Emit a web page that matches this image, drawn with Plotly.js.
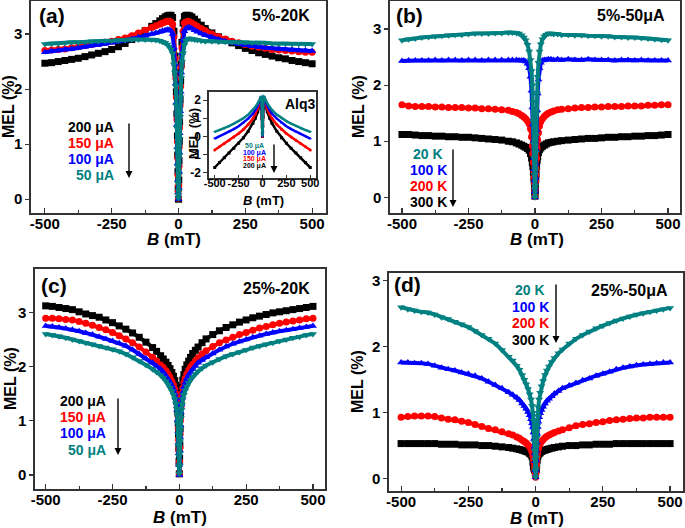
<!DOCTYPE html>
<html lang="en">
<head>
<meta charset="UTF-8">
<title>MEL vs B</title>
<script src="https://cdn.plot.ly/plotly-3.0.1.min.js"></script>
<style>
  body { margin: 0; background: white; }
  #plot { width: 685px; height: 528px; }
</style>
</head>
<body>
<div id="plot"></div>
<script>
// magnetic field grid (mT), shared by the four main panels
const bField = [
  -500, -475, -450, -425, -400, -375, -350, -325, -300, -275, -250, -225, -200, -175, -150, -125, -100,
  -85, -70, -60, -50, -42, -35, -28, -22, -17, -13, -10, -8, -6, -4, -3, -2, -1,
  0,
  1, 2, 3, 4, 6, 8, 10, 13, 17, 22, 28, 35, 42, 50, 60, 70, 85,
  100, 125, 150, 175, 200, 225, 250, 275, 300, 325, 350, 375, 400, 425, 450, 475, 500
];

// (a) 5%-20K, MEL (%) for each current
const melA200 = [
  2.47, 2.48, 2.50, 2.52, 2.54, 2.56, 2.59, 2.62, 2.65, 2.68, 2.72, 2.77, 2.83, 2.90, 2.98, 3.06, 3.14,
  3.19, 3.24, 3.28, 3.31, 3.33, 3.34, 3.34, 3.30, 3.05, 2.60, 2.30, 1.95, 1.55, 1.15, 0.80, 0.50, 0.20,
  0.00,
  0.35, 0.70, 1.05, 1.40, 1.80, 2.15, 2.45, 2.85, 3.20, 3.32, 3.34, 3.34, 3.33, 3.31, 3.27, 3.22, 3.16,
  3.10, 3.02, 2.95, 2.89, 2.84, 2.79, 2.74, 2.70, 2.66, 2.63, 2.60, 2.57, 2.55, 2.52, 2.50, 2.48, 2.46
];
const melA150 = [
  2.70, 2.71, 2.72, 2.73, 2.75, 2.77, 2.79, 2.81, 2.83, 2.85, 2.87, 2.90, 2.93, 2.97, 3.02, 3.07, 3.12,
  3.15, 3.18, 3.20, 3.22, 3.23, 3.23, 3.22, 3.18, 2.95, 2.55, 2.20, 1.85, 1.45, 1.05, 0.75, 0.45, 0.15,
  0.02,
  0.25, 0.60, 0.95, 1.30, 1.70, 2.05, 2.40, 2.75, 3.05, 3.20, 3.22, 3.23, 3.22, 3.20, 3.17, 3.14, 3.10,
  3.06, 3.00, 2.95, 2.91, 2.87, 2.84, 2.81, 2.78, 2.76, 2.74, 2.72, 2.71, 2.70, 2.69, 2.68, 2.67, 2.67
];
const melA100 = [
  2.67, 2.69, 2.70, 2.72, 2.73, 2.75, 2.77, 2.79, 2.80, 2.82, 2.84, 2.86, 2.88, 2.91, 2.94, 2.97, 3.00,
  3.02, 3.04, 3.06, 3.07, 3.08, 3.08, 3.06, 3.00, 2.75, 2.45, 2.10, 1.75, 1.35, 0.95, 0.65, 0.35, 0.12,
  0.00,
  0.20, 0.50, 0.85, 1.20, 1.60, 1.95, 2.30, 2.65, 2.90, 3.05, 3.10, 3.12, 3.12, 3.10, 3.07, 3.04, 3.01,
  2.98, 2.94, 2.90, 2.87, 2.84, 2.82, 2.80, 2.78, 2.76, 2.75, 2.74, 2.73, 2.72, 2.71, 2.70, 2.70, 2.69
];
const melA50 = [
  2.82, 2.83, 2.83, 2.84, 2.85, 2.85, 2.86, 2.87, 2.87, 2.88, 2.88, 2.89, 2.89, 2.90, 2.90, 2.90, 2.90,
  2.89, 2.88, 2.86, 2.84, 2.81, 2.77, 2.72, 2.65, 2.45, 2.30, 2.05, 1.70, 1.30, 0.90, 0.60, 0.30, 0.08,
  0.02,
  0.15, 0.45, 0.80, 1.10, 1.50, 1.85, 2.20, 2.50, 2.65, 2.80, 2.88, 2.91, 2.92, 2.91, 2.90, 2.89, 2.88,
  2.87, 2.87, 2.86, 2.86, 2.85, 2.85, 2.85, 2.84, 2.84, 2.84, 2.83, 2.83, 2.83, 2.82, 2.82, 2.82, 2.82
];

// (b) 5%-50uA, MEL (%) for each temperature
const melB20 = [
  2.80, 2.82, 2.83, 2.85, 2.86, 2.87, 2.88, 2.89, 2.90, 2.90, 2.91, 2.92, 2.92, 2.92, 2.93, 2.93, 2.94,
  2.94, 2.93, 2.92, 2.89, 2.85, 2.80, 2.72, 2.60, 2.45, 2.25, 2.00, 1.70, 1.35, 0.95, 0.70, 0.40, 0.15,
  0.00,
  0.20, 0.50, 0.80, 1.10, 1.50, 1.85, 2.15, 2.40, 2.60, 2.73, 2.82, 2.87, 2.90, 2.92, 2.92, 2.91, 2.91,
  2.90, 2.90, 2.89, 2.89, 2.88, 2.88, 2.87, 2.87, 2.86, 2.86, 2.85, 2.85, 2.84, 2.83, 2.82, 2.81, 2.80
];
const melB100 = [
  2.43, 2.44, 2.44, 2.44, 2.44, 2.45, 2.44, 2.45, 2.45, 2.44, 2.45, 2.45, 2.44, 2.45, 2.45, 2.45, 2.45,
  2.45, 2.45, 2.44, 2.44, 2.44, 2.42, 2.38, 2.30, 2.15, 1.90, 1.60, 1.30, 1.00, 0.70, 0.50, 0.30, 0.10,
  0.00,
  0.15, 0.35, 0.60, 0.85, 1.20, 1.55, 1.85, 2.10, 2.30, 2.40, 2.44, 2.45, 2.45, 2.46, 2.46, 2.45, 2.46,
  2.45, 2.46, 2.45, 2.45, 2.46, 2.45, 2.45, 2.45, 2.44, 2.45, 2.45, 2.44, 2.45, 2.44, 2.44, 2.44, 2.44
];
const melB200 = [
  1.65, 1.63, 1.62, 1.62, 1.62, 1.61, 1.61, 1.60, 1.60, 1.60, 1.59, 1.59, 1.58, 1.58, 1.57, 1.56, 1.55,
  1.53, 1.51, 1.49, 1.46, 1.43, 1.40, 1.36, 1.31, 1.22, 1.08, 0.92, 0.78, 0.62, 0.45, 0.35, 0.25, 0.12,
  0.02,
  0.15, 0.28, 0.40, 0.52, 0.70, 0.88, 1.02, 1.15, 1.27, 1.35, 1.40, 1.44, 1.47, 1.50, 1.52, 1.54, 1.56,
  1.57, 1.58, 1.59, 1.60, 1.60, 1.61, 1.61, 1.62, 1.62, 1.62, 1.63, 1.63, 1.63, 1.64, 1.64, 1.65, 1.65
];
const melB300 = [
  1.12, 1.12, 1.11, 1.10, 1.10, 1.09, 1.09, 1.08, 1.08, 1.07, 1.07, 1.06, 1.05, 1.04, 1.03, 1.02, 1.00,
  0.99, 0.97, 0.95, 0.93, 0.91, 0.89, 0.87, 0.84, 0.78, 0.70, 0.62, 0.55, 0.45, 0.35, 0.28, 0.20, 0.10,
  0.02,
  0.12, 0.22, 0.32, 0.42, 0.55, 0.66, 0.72, 0.80, 0.85, 0.88, 0.91, 0.93, 0.95, 0.97, 0.98, 0.99, 1.00,
  1.01, 1.02, 1.03, 1.04, 1.05, 1.05, 1.06, 1.07, 1.07, 1.08, 1.08, 1.09, 1.09, 1.10, 1.10, 1.11, 1.12
];

// (c) 25%-20K
const melC200 = [
  3.12, 3.11, 3.09, 3.07, 3.05, 3.01, 2.97, 2.94, 2.91, 2.86, 2.81, 2.75, 2.69, 2.62, 2.54, 2.45, 2.35,
  2.28, 2.20, 2.14, 2.08, 2.02, 1.96, 1.89, 1.82, 1.74, 1.65, 1.55, 1.40, 1.20, 0.95, 0.75, 0.50, 0.25,
  0.02,
  0.30, 0.55, 0.85, 1.10, 1.35, 1.50, 1.62, 1.75, 1.85, 1.95, 2.03, 2.10, 2.17, 2.24, 2.30, 2.36, 2.44,
  2.51, 2.59, 2.66, 2.72, 2.77, 2.82, 2.86, 2.90, 2.93, 2.96, 2.99, 3.01, 3.03, 3.05, 3.07, 3.09, 3.11
];
const melC150 = [
  2.89, 2.89, 2.88, 2.87, 2.86, 2.83, 2.80, 2.76, 2.72, 2.68, 2.63, 2.57, 2.51, 2.44, 2.36, 2.27, 2.17,
  2.10, 2.03, 1.98, 1.92, 1.86, 1.80, 1.73, 1.66, 1.58, 1.50, 1.40, 1.28, 1.10, 0.85, 0.65, 0.45, 0.20,
  0.02,
  0.25, 0.50, 0.75, 1.00, 1.25, 1.40, 1.50, 1.60, 1.70, 1.78, 1.86, 1.93, 1.99, 2.04, 2.10, 2.16, 2.23,
  2.29, 2.37, 2.44, 2.49, 2.54, 2.59, 2.63, 2.67, 2.71, 2.74, 2.77, 2.80, 2.82, 2.84, 2.86, 2.88, 2.89
];
const melC100 = [
  2.75, 2.74, 2.72, 2.70, 2.68, 2.65, 2.62, 2.59, 2.55, 2.51, 2.47, 2.43, 2.38, 2.31, 2.23, 2.15, 2.07,
  2.01, 1.95, 1.90, 1.83, 1.77, 1.71, 1.65, 1.58, 1.50, 1.42, 1.33, 1.20, 1.02, 0.80, 0.60, 0.40, 0.18,
  0.00,
  0.22, 0.45, 0.70, 0.92, 1.15, 1.30, 1.42, 1.52, 1.62, 1.70, 1.78, 1.85, 1.90, 1.95, 2.01, 2.07, 2.12,
  2.17, 2.24, 2.31, 2.37, 2.42, 2.46, 2.50, 2.54, 2.57, 2.60, 2.63, 2.65, 2.67, 2.69, 2.71, 2.73, 2.75
];
const melC50 = [
  2.60, 2.58, 2.56, 2.53, 2.50, 2.47, 2.44, 2.41, 2.38, 2.35, 2.32, 2.28, 2.23, 2.17, 2.10, 2.03, 1.95,
  1.90, 1.84, 1.79, 1.73, 1.67, 1.61, 1.55, 1.48, 1.40, 1.32, 1.22, 1.10, 0.95, 0.75, 0.55, 0.35, 0.15,
  0.02,
  0.18, 0.40, 0.62, 0.85, 1.05, 1.20, 1.30, 1.40, 1.48, 1.56, 1.63, 1.70, 1.75, 1.80, 1.86, 1.91, 1.97,
  2.02, 2.08, 2.14, 2.19, 2.23, 2.27, 2.31, 2.35, 2.38, 2.41, 2.44, 2.47, 2.50, 2.53, 2.55, 2.58, 2.60
];

// (d) 25%-50uA
const melD20 = [
  2.60, 2.57, 2.55, 2.53, 2.52, 2.49, 2.45, 2.42, 2.38, 2.34, 2.30, 2.24, 2.18, 2.12, 2.05, 1.95, 1.85,
  1.79, 1.71, 1.65, 1.57, 1.50, 1.43, 1.36, 1.28, 1.20, 1.10, 1.00, 0.88, 0.72, 0.55, 0.42, 0.28, 0.12,
  0.02,
  0.15, 0.32, 0.48, 0.62, 0.80, 0.95, 1.08, 1.20, 1.30, 1.40, 1.48, 1.57, 1.64, 1.70, 1.77, 1.83, 1.90,
  1.96, 2.05, 2.12, 2.18, 2.23, 2.28, 2.32, 2.36, 2.40, 2.43, 2.46, 2.49, 2.51, 2.53, 2.55, 2.57, 2.59
];
const melD100 = [
  1.76, 1.76, 1.75, 1.75, 1.74, 1.71, 1.68, 1.66, 1.64, 1.61, 1.59, 1.56, 1.52, 1.47, 1.42, 1.37, 1.31,
  1.27, 1.23, 1.19, 1.14, 1.10, 1.06, 1.01, 0.96, 0.90, 0.84, 0.78, 0.70, 0.60, 0.48, 0.38, 0.26, 0.12,
  0.02,
  0.14, 0.28, 0.42, 0.55, 0.68, 0.78, 0.86, 0.93, 0.99, 1.04, 1.09, 1.14, 1.18, 1.21, 1.25, 1.29, 1.33,
  1.37, 1.41, 1.45, 1.49, 1.52, 1.56, 1.59, 1.62, 1.66, 1.68, 1.70, 1.72, 1.73, 1.74, 1.75, 1.76, 1.76
];
const melD200 = [
  0.93, 0.94, 0.95, 0.95, 0.95, 0.94, 0.92, 0.90, 0.89, 0.87, 0.85, 0.82, 0.79, 0.76, 0.74, 0.71, 0.68,
  0.66, 0.63, 0.61, 0.58, 0.56, 0.54, 0.51, 0.48, 0.44, 0.40, 0.35, 0.30, 0.25, 0.18, 0.14, 0.10, 0.05,
  0.02,
  0.08, 0.14, 0.20, 0.26, 0.34, 0.40, 0.45, 0.50, 0.53, 0.56, 0.59, 0.62, 0.64, 0.66, 0.68, 0.70, 0.72,
  0.74, 0.77, 0.80, 0.82, 0.83, 0.85, 0.86, 0.88, 0.89, 0.90, 0.91, 0.92, 0.92, 0.93, 0.93, 0.93, 0.93
];
const melD300 = [
  0.53, 0.53, 0.53, 0.53, 0.53, 0.53, 0.52, 0.52, 0.52, 0.51, 0.51, 0.51, 0.50, 0.50, 0.49, 0.48, 0.47,
  0.46, 0.45, 0.44, 0.43, 0.42, 0.41, 0.40, 0.38, 0.36, 0.33, 0.25, 0.18, 0.15, 0.14, 0.13, 0.12, 0.12,
  0.12,
  0.13, 0.14, 0.16, 0.20, 0.28, 0.34, 0.36, 0.38, 0.39, 0.41, 0.42, 0.43, 0.44, 0.45, 0.46, 0.47, 0.48,
  0.49, 0.50, 0.50, 0.51, 0.51, 0.52, 0.52, 0.52, 0.53, 0.53, 0.53, 0.53, 0.53, 0.53, 0.53, 0.53, 0.53
];

// inset: Alq3 reference device
const insetField = [
  -500, -450, -400, -350, -300, -250, -200, -150, -100, -75, -50, -35, -25, -18, -12, -8, -5, -3, -1,
  0,
  1, 3, 5, 8, 12, 18, 25, 35, 50, 75, 100, 150, 200, 250, 300, 350, 400, 450, 500
];
const alq50 = [
  0.25, 0.35, 0.45, 0.57, 0.70, 0.84, 1.00, 1.20, 1.45, 1.62, 1.82, 1.97, 2.08, 2.18, 2.20, 1.80, 1.30, 0.80, 0.30,
  0.05,
  0.35, 0.85, 1.35, 1.85, 2.20, 2.18, 2.08, 1.97, 1.82, 1.62, 1.45, 1.20, 1.00, 0.84, 0.70, 0.57, 0.45, 0.35, 0.25
];
const alq100 = [
  -0.12, 0.00, 0.12, 0.26, 0.40, 0.56, 0.75, 0.98, 1.25, 1.45, 1.70, 1.88, 2.03, 2.15, 2.18, 1.70, 1.20, 0.70, 0.25,
  0.02,
  0.30, 0.75, 1.25, 1.75, 2.18, 2.15, 2.03, 1.88, 1.70, 1.45, 1.25, 0.98, 0.75, 0.56, 0.40, 0.26, 0.12, 0.00, -0.12
];
const alq150 = [
  -0.75, -0.57, -0.40, -0.22, -0.04, 0.16, 0.38, 0.65, 0.98, 1.22, 1.52, 1.75, 1.95, 2.10, 2.15, 1.60, 1.10, 0.60, 0.20,
  0.00,
  0.25, 0.65, 1.15, 1.65, 2.15, 2.10, 1.95, 1.75, 1.52, 1.22, 0.98, 0.65, 0.38, 0.16, -0.04, -0.22, -0.40, -0.57, -0.75
];
const alq200 = [
  -1.72, -1.45, -1.18, -0.92, -0.66, -0.38, -0.08, 0.28, 0.72, 1.00, 1.35, 1.62, 1.85, 2.05, 2.12, 1.50, 1.00, 0.50, 0.15,
  0.00,
  0.20, 0.55, 1.05, 1.55, 2.12, 2.05, 1.85, 1.62, 1.35, 1.00, 0.72, 0.28, -0.08, -0.38, -0.66, -0.92, -1.18, -1.45, -1.72
];

// tick labels
const bTicks = [-500, -250, 0, 250, 500];
const bTickText = ['-500', '-250', '0', '250', '500'];
const melTicks = [0, 1, 2, 3];
const melTickText = ['0', '1', '2', '3'];
const insetMelTicks = [-2, -1, 0, 1, 2];
const insetMelTickText = ['-2', '-1', '0', '1', '2'];

const currentLabels = ['200 μA', '150 μA', '100 μA', '50 μA'];
const tempLabels = ['20 K', '100 K', '200 K', '300 K'];

const BLACK = '#000000', RED = '#ff0000', BLUE = '#0000ff', TEAL = '#008080';
const FONT = 'Arial, "Liberation Sans", sans-serif';
const W = 685, H = 528;

// pixel box -> paper domain
function box(l, t, r, b) {
    return {x: [l / W, r / W], y: [1 - b / H, 1 - t / H]};
}

// thick line under the symbols so the dense data reads as a band
function series(x, y, color, symbol, xa, ya, size, lw) {
    return {
        x: x, y: y, type: 'scatter', mode: 'lines+markers',
        xaxis: xa, yaxis: ya, showlegend: false, hoverinfo: 'skip',
        line: {color: color, width: lw},
        marker: {color: color, symbol: symbol, size: size, line: {width: 0}}
    };
}

const traces = [
    series(bField, melA200, BLACK, 'square', 'x', 'y', 7, 4),
    series(bField, melA150, RED, 'circle', 'x', 'y', 7, 4),
    series(bField, melA100, BLUE, 'triangle-up', 'x', 'y', 7, 4),
    series(bField, melA50, TEAL, 'triangle-down', 'x', 'y', 7, 4),

    series(bField, melB300, BLACK, 'square', 'x2', 'y2', 7, 4),
    series(bField, melB200, RED, 'circle', 'x2', 'y2', 7, 4),
    series(bField, melB100, BLUE, 'triangle-up', 'x2', 'y2', 7, 4),
    series(bField, melB20, TEAL, 'triangle-down', 'x2', 'y2', 7, 4),

    series(bField, melC200, BLACK, 'square', 'x3', 'y3', 7, 4),
    series(bField, melC150, RED, 'circle', 'x3', 'y3', 7, 4),
    series(bField, melC100, BLUE, 'triangle-up', 'x3', 'y3', 7, 4),
    series(bField, melC50, TEAL, 'triangle-down', 'x3', 'y3', 7, 4),

    series(bField, melD300, BLACK, 'square', 'x4', 'y4', 7, 4),
    series(bField, melD200, RED, 'circle', 'x4', 'y4', 7, 4),
    series(bField, melD100, BLUE, 'triangle-up', 'x4', 'y4', 7, 4),
    series(bField, melD20, TEAL, 'triangle-down', 'x4', 'y4', 7, 4),

    series(insetField, alq200, BLACK, 'square', 'x5', 'y5', 3, 2.5),
    series(insetField, alq150, RED, 'circle', 'x5', 'y5', 3, 2.5),
    series(insetField, alq100, BLUE, 'triangle-up', 'x5', 'y5', 3, 2.5),
    series(insetField, alq50, TEAL, 'triangle-down', 'x5', 'y5', 3, 2.5)
];

function xAxis(dom, range, anchor, fs) {
    return {
        domain: dom, range: range, anchor: anchor,
        tickmode: 'array', tickvals: bTicks, ticktext: bTickText, tickangle: 0,
        ticks: 'inside', ticklen: 5, tickwidth: 1.2, tickcolor: '#333',
        minor: {tickmode: 'array', tickvals: [-375, -125, 125, 375], ticks: 'inside', ticklen: 3, tickcolor: '#333'},
        showline: true, mirror: true, linecolor: '#333', linewidth: 1.6,
        showgrid: false, zeroline: false, ticklabelstandoff: -4,
        tickfont: {family: FONT, size: fs, weight: 'bold', color: '#000'}
    };
}

function yAxis(dom, range, anchor, vals, text, fs) {
    return {
        domain: dom, range: range, anchor: anchor,
        tickmode: 'array', tickvals: vals, ticktext: text,
        ticks: 'outside', ticklen: 4, tickwidth: 1.2, tickcolor: '#333',
        showline: true, mirror: true, linecolor: '#333', linewidth: 1.6,
        showgrid: false, zeroline: false,
        tickfont: {family: FONT, size: fs, weight: 'bold', color: '#000'}
    };
}

const pa = box(31, 1, 326, 213);
const pb = box(390, 1, 680, 213);
const pc = box(35, 269, 325, 489);
const pd = box(389, 273, 683, 491);
const pi = box(209, 92, 316, 178);

function txt(text, px, py, size, color, extra) {
    return Object.assign({
        text: '<b>' + text + '</b>', x: px / W, y: 1 - py / H, xref: 'paper', yref: 'paper',
        xanchor: 'center', yanchor: 'middle',
        showarrow: false, font: {family: FONT, size: size, color: color}
    }, extra || {});
}

function arrow(px, top, bottom) {
    return {
        x: px / W, y: 1 - bottom / H, xref: 'paper', yref: 'paper', text: '',
        showarrow: true, ax: 0, ay: -(bottom - top), arrowhead: 2, arrowsize: 1,
        arrowwidth: 1.4, arrowcolor: '#000'
    };
}

const colorsCur = [BLACK, RED, BLUE, TEAL];
const colorsTemp = [TEAL, BLUE, RED, BLACK];

const annotations = [
    // panel letters and conditions
    txt('(a)', 52, 16, 21, '#000'),
    txt('5%-20K', 281, 16, 16, '#000'),
    txt('(b)', 409, 15, 21, '#000'),
    txt('5%-50μA', 631, 15, 16, '#000'),
    txt('(c)', 54, 285, 21, '#000'),
    txt('25%-20K', 276, 288, 16, '#000'),
    txt('(d)', 407, 284, 21, '#000'),
    txt('25%-50μA', 629, 290, 16, '#000'),

    // axis titles
    txt('MEL (%)', 8, 107, 16, '#000', {textangle: -90}),
    txt('MEL (%)', 358, 107, 16, '#000', {textangle: -90}),
    txt('MEL (%)', 10, 379, 16, '#000', {textangle: -90}),
    txt('MEL (%)', 357, 382, 16, '#000', {textangle: -90}),
    txt('<i>B</i> (mT)', 174, 239, 17, '#000'),
    txt('<i>B</i> (mT)', 537, 239, 17, '#000'),
    txt('<i>B</i> (mT)', 180, 517, 17, '#000'),
    txt('<i>B</i> (mT)', 537, 518, 17, '#000'),

    // inset labels
    txt('Alq3', 300, 104, 14, '#000'),
    txt('MEL (%)', 193, 134, 13, '#000', {textangle: -90}),
    txt('<i>B</i> (mT)', 263, 200, 13, '#000'),

    arrow(129, 122, 178),
    arrow(453, 148, 207),
    arrow(118, 397, 455),
    arrow(556, 283, 343),
    arrow(274, 143, 173)
];

// legend texts written beside the arrows
const legA = [127, 143, 159, 175];
currentLabels.forEach((t, i) => annotations.push(txt(t, 116, legA[i], 14, colorsCur[i], {xanchor: 'right'})));
const legC = [401, 417, 433, 450];
currentLabels.forEach((t, i) => annotations.push(txt(t, 108, legC[i], 14, colorsCur[i], {xanchor: 'right'})));
const legB = [154, 170, 186, 202];
tempLabels.forEach((t, i) => annotations.push(txt(t, 428, legB[i], 14, colorsTemp[i])));
const legD = [290, 307, 323, 340];
tempLabels.forEach((t, i) => annotations.push(txt(t, 530, legD[i], 14, colorsTemp[i])));
const legI = [146, 153, 159, 166];
currentLabels.slice().reverse().forEach((t, i) => annotations.push(txt(t, 254, legI[i], 7, colorsCur[3 - i])));

const layout = {
    width: W, height: H,
    margin: {l: 0, r: 0, t: 0, b: 0},
    paper_bgcolor: 'white', plot_bgcolor: 'rgba(0,0,0,0)',
    showlegend: false,
    xaxis: xAxis(pa.x, [-552, 552], 'y', 15),
    yaxis: yAxis(pa.y, [-0.25, 3.6], 'x', melTicks, melTickText, 15),
    xaxis2: xAxis(pb.x, [-545, 545], 'y2', 15),
    yaxis2: yAxis(pb.y, [-0.28, 3.5], 'x2', melTicks, melTickText, 15),
    xaxis3: xAxis(pc.x, [-540, 545], 'y3', 15),
    yaxis3: yAxis(pc.y, [-0.26, 3.8], 'x3', melTicks, melTickText, 15),
    xaxis4: xAxis(pd.x, [-545, 548], 'y4', 15),
    yaxis4: yAxis(pd.y, [-0.19, 3.12], 'x4', melTicks, melTickText, 15),
    xaxis5: Object.assign(xAxis(pi.x, [-560, 560], 'y5', 11), {ticklen: 3, minor: {ticks: ''}, ticklabelstandoff: -6}),
    yaxis5: yAxis(pi.y, [-2.3, 2.45], 'x5', insetMelTicks, insetMelTickText, 12),
    annotations: annotations
};

Plotly.newPlot('plot', traces, layout, {displayModeBar: false, staticPlot: true});
</script>
</body>
</html>
